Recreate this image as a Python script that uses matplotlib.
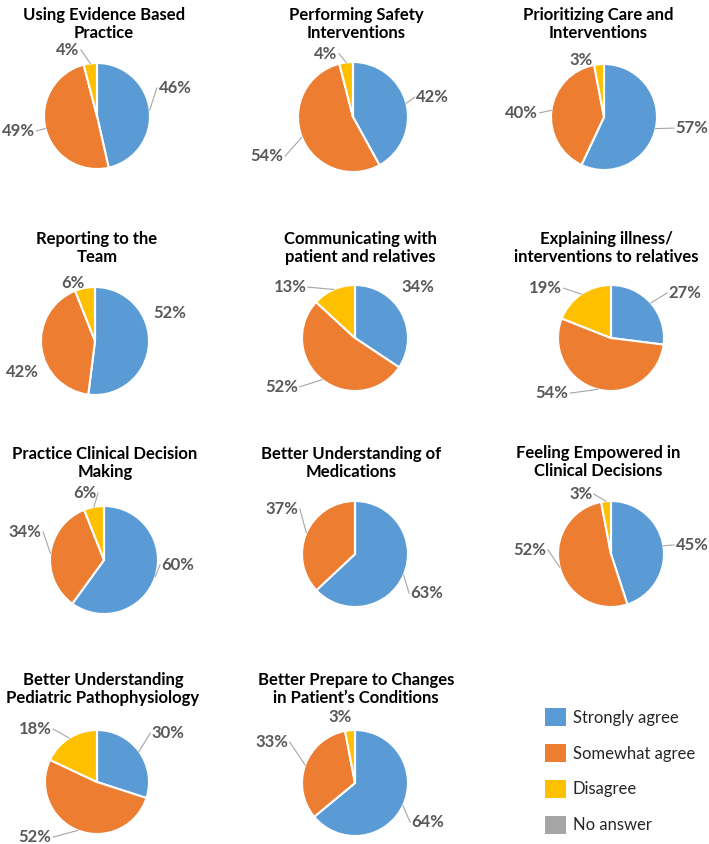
import matplotlib
matplotlib.use("Agg")
from matplotlib import pyplot as plt
from matplotlib.patches import Patch
import numpy as np

plt.rcParams['font.family'] = ['Lato', 'DejaVu Sans']

# Chart data
titles = [
    "Using Evidence Based\nPractice",
    "Performing Safety\nInterventions",
    "Prioritizing Care and\nInterventions",
    "Reporting to the\nTeam",
    "Communicating with\npatient and relatives",
    "Explaining illness/\ninterventions to relatives",
    "Practice Clinical Decision\nMaking",
    "Better Understanding of\nMedications",
    "Feeling Empowered in\nClinical Decisions",
    "Better Understanding\nPediatric Pathophysiology",
    "Better Prepare to Changes\nin Patient\u2019s Conditions",
]
strongly_agree = [46, 42, 57, 52, 34, 27, 60, 63, 45, 30, 64]
somewhat_agree = [49, 54, 40, 42, 52, 54, 34, 37, 52, 52, 33]
disagree = [4, 4, 3, 6, 13, 19, 6, 0, 3, 18, 3]
no_answer = [0, 0, 0, 0, 0, 0, 0, 0, 0, 0, 0]
categories = ["Strongly agree", "Somewhat agree", "Disagree", "No answer"]
colors = ["#5B9BD5", "#ED7D31", "#FFC000", "#A5A5A5"]

# Layout (pixels, y from top)
W, H = 709, 844
pie_x = [97, 353, 604, 95, 355, 611, 104, 355, 611, 97, 355]
pie_y = [116, 117, 117, 341, 338, 338, 560, 554, 554, 782, 783]
pie_r = [53, 55, 53, 54, 53, 53, 54, 53, 53, 52, 53]
title_x = [104, 356, 598, 97, 360, 606, 105, 351, 598, 103, 356]
title_y = [7, 7, 7, 231, 231, 231, 446, 446, 445, 672, 672]

# label offsets (in pie radii) for strongly / somewhat / disagree
lab_off = [
    [(1.47, 0.53), (-1.48, -0.28), (-0.55, 1.25)],
    [(1.45, 0.36), (-1.56, -0.71), (-0.49, 1.15)],
    [(1.66, -0.21), (-1.55, 0.08), (-0.43, 1.08)],
    [(1.39, 0.52), (-1.35, -0.57), (-0.41, 1.07)],
    [(1.19, 0.96), (-1.38, -0.92), (-1.23, 0.96)],
    [(1.40, 0.85), (-1.11, -1.04), (-1.23, 0.94)],
    [(1.37, -0.09), (-1.46, 0.52), (-0.35, 1.24)],
    [(1.36, -0.74), (-1.38, 0.85), (0, 0)],
    [(1.53, 0.17), (-1.53, 0.08), (-0.57, 1.13)],
    [(1.37, 0.94), (-1.19, -1.06), (-1.19, 1.02)],
    [(1.38, -0.74), (-1.57, 0.77), (-0.28, 1.25)],
]

fig = plt.figure(figsize=(W / 100, H / 100), dpi=100)
ax = fig.add_axes([0, 0, 1, 1])

for i in range(len(titles)):
    vals = [strongly_agree[i], somewhat_agree[i], disagree[i], no_answer[i]]
    cx, cy, r = pie_x[i], H - pie_y[i], pie_r[i]
    ax.pie(vals, colors=colors, center=(cx, cy), radius=r,
           startangle=90, counterclock=False,
           wedgeprops=dict(edgecolor='white', linewidth=1.5))
    ax.text(title_x[i], H - title_y[i], titles[i], ha='center', va='top',
            fontsize=12, fontweight='bold', color='black', linespacing=1.15)

    total = sum(vals)
    start = 90.0
    for k in range(3):
        v = vals[k]
        if v == 0:
            continue
        ang = start - v / total * 360 / 2
        start -= v / total * 360
        dx, dy = lab_off[i][k]
        lx, ly = cx + dx * r, cy + dy * r
        ax.text(lx, ly, f"{v}%", ha='center', va='center',
                fontsize=12, fontweight='bold', color='#595959')
        # leader line from wedge edge to label side
        ex = cx + r * np.cos(np.radians(ang))
        ey = cy + r * np.sin(np.radians(ang))
        half_w = 11 if v < 10 else 16
        side = -1 if lx > cx else 1
        tx = lx + side * (half_w + 2)
        if abs(tx - ex) > 4 and np.hypot(tx - ex, ly - ey) > 9:
            ax.plot([ex, tx], [ey, ly], color='#A6A6A6', lw=0.8)

ax.set_xlim(0, W)
ax.set_ylim(0, H)
ax.set_aspect('equal')
ax.axis('off')

handles = [Patch(facecolor=c, edgecolor='none') for c in colors]
fig.legend(handles, categories, loc='upper left',
           bbox_to_anchor=(545 / W, 1 - 708 / H), frameon=False,
           fontsize=12, handlelength=1.28, handleheight=1.28,
           labelspacing=1.08, handletextpad=0.4, borderpad=0,
           borderaxespad=0, labelcolor='#262626')

fig.savefig("out.png", dpi=100)
